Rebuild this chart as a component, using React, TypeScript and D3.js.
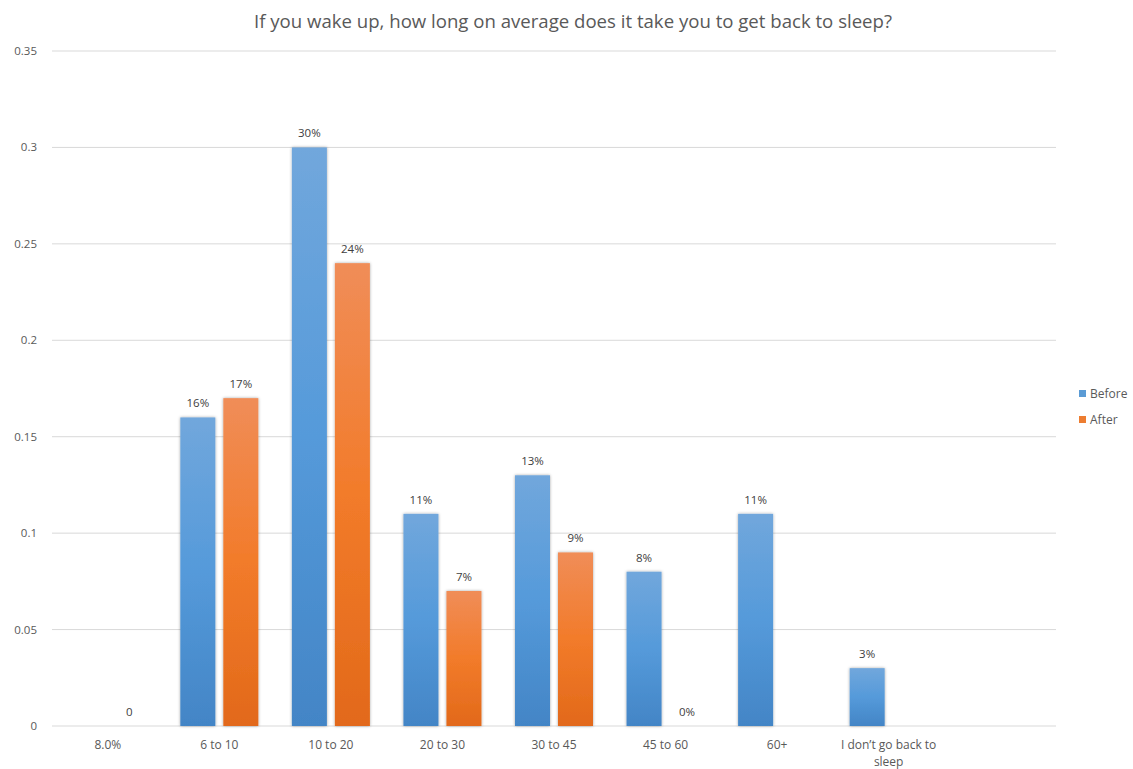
import React from "react";
import * as d3 from "d3";

const title = "If you wake up, how long on average does it take you to get back to sleep?";
const categories = ["8.0%", "6 to 10", "10 to 20", "20 to 30", "30 to 45", "45 to 60", "60+", "I don\u2019t go back to sleep", ""];
const seriesNames = ["Before", "After"];
const beforeValues: (number | null)[] = [null, 0.16, 0.3, 0.11, 0.13, 0.08, 0.11, 0.03, null];
const afterValues: (number | null)[] = [0, 0.17, 0.24, 0.07, 0.09, 0, null, null, null];
const beforeLabels: (string | null)[] = [null, "16%", "30%", "11%", "13%", "8%", "11%", "3%", null];
const afterLabels: (string | null)[] = ["0", "17%", "24%", "7%", "9%", "0%", null, null, null];
const yTicks = [0, 0.05, 0.1, 0.15, 0.2, 0.25, 0.3, 0.35];

const W = 1133;
const H = 769;
const margin = { left: 52, right: 1056, top: 51, bottom: 726 };
const FONT = "'Open Sans', 'Liberation Sans', sans-serif";
const TXT = "#595959";

function wrapLabel(s: string): string[] {
  if (s.length < 16) return [s];
  const words = s.split(" ");
  const lines: string[] = [];
  let cur = "";
  for (const w of words) {
    const t = cur ? cur + " " + w : w;
    if (t.length > 18 && cur) {
      lines.push(cur);
      cur = w;
    } else cur = t;
  }
  if (cur) lines.push(cur);
  return lines;
}

export default function App() {
  const x0 = d3.scaleBand<string>().domain(categories.map((c, i) => String(i))).range([margin.left, margin.right]).paddingInner(0).paddingOuter(0);
  const bw = x0.bandwidth();
  const barW = 35;
  const gap = 8;
  const y = d3.scaleLinear().domain([0, 0.35]).range([margin.bottom, margin.top]);
  const series = [
    { name: seriesNames[0], values: beforeValues, labels: beforeLabels, grad: "gBlue", color: "#5b9bd5", offset: -(gap / 2 + barW) },
    { name: seriesNames[1], values: afterValues, labels: afterLabels, grad: "gOrange", color: "#ed7d31", offset: gap / 2 },
  ];

  return (
    <svg width={W} height={H} style={{ position: "absolute", left: 0, top: 0, background: "#fff" }}>
      <defs>
        <linearGradient id="gBlue" x1="0" y1="0" x2="0" y2="1">
          <stop offset="0%" stopColor="#71a7dc" />
          <stop offset="50%" stopColor="#559ada" />
          <stop offset="100%" stopColor="#4385c6" />
        </linearGradient>
        <linearGradient id="gOrange" x1="0" y1="0" x2="0" y2="1">
          <stop offset="0%" stopColor="#f08d58" />
          <stop offset="50%" stopColor="#f27b2a" />
          <stop offset="100%" stopColor="#e2691a" />
        </linearGradient>
        <filter id="shadow" x="-30%" y="-10%" width="160%" height="120%">
          <feDropShadow dx="0" dy="0" stdDeviation="1.6" floodColor="#000" floodOpacity="0.35" />
        </filter>
      </defs>
      <text x={573} y={28} textAnchor="middle" fontFamily={FONT} fontSize={18.6} fill={TXT}>{title}</text>
      {yTicks.map((t) => (
        <g key={t}>
          <line x1={margin.left} x2={margin.right} y1={y(t)} y2={y(t)} stroke="#d9d9d9" strokeWidth={1} />
          <text x={37} y={y(t) + 4} textAnchor="end" fontFamily={FONT} fontSize={11.5} fill={TXT}>{String(t)}</text>
        </g>
      ))}
      {series.map((s) => (
        <g key={s.name}>
          {s.values.map((v, i) => {
            if (v === null) return null;
            const cx = (x0(String(i)) as number) + bw / 2;
            const bx = cx + s.offset;
            const top = y(v);
            const h = y(0) - top;
            return (
              <g key={i}>
                {h > 0 && <rect x={bx} y={top} width={barW} height={h} fill={`url(#${s.grad})`} filter="url(#shadow)" />}
                {s.labels[i] !== null && (
                  <text x={bx + barW / 2} y={top - 10} textAnchor="middle" fontFamily={FONT} fontSize={11.5} fill="#404040">{s.labels[i]}</text>
                )}
              </g>
            );
          })}
        </g>
      ))}
      {categories.map((c, i) => {
        const cx = (x0(String(i)) as number) + bw / 2;
        const lines = wrapLabel(c);
        return (
          <text key={i} x={cx} y={749} textAnchor="middle" fontFamily={FONT} fontSize={12} fill={TXT}>
            {lines.map((l, k) => (
              <tspan key={k} x={cx} dy={k === 0 ? 0 : 17}>{l}</tspan>
            ))}
          </text>
        );
      })}
      {series.map((s, k) => (
        <g key={s.name} transform={`translate(1079, ${390 + k * 26})`}>
          <rect x={0} y={0} width={7} height={7} fill={s.color} />
          <text x={11} y={8} fontFamily={FONT} fontSize={12} fill={TXT}>{s.name}</text>
        </g>
      ))}
    </svg>
  );
}
